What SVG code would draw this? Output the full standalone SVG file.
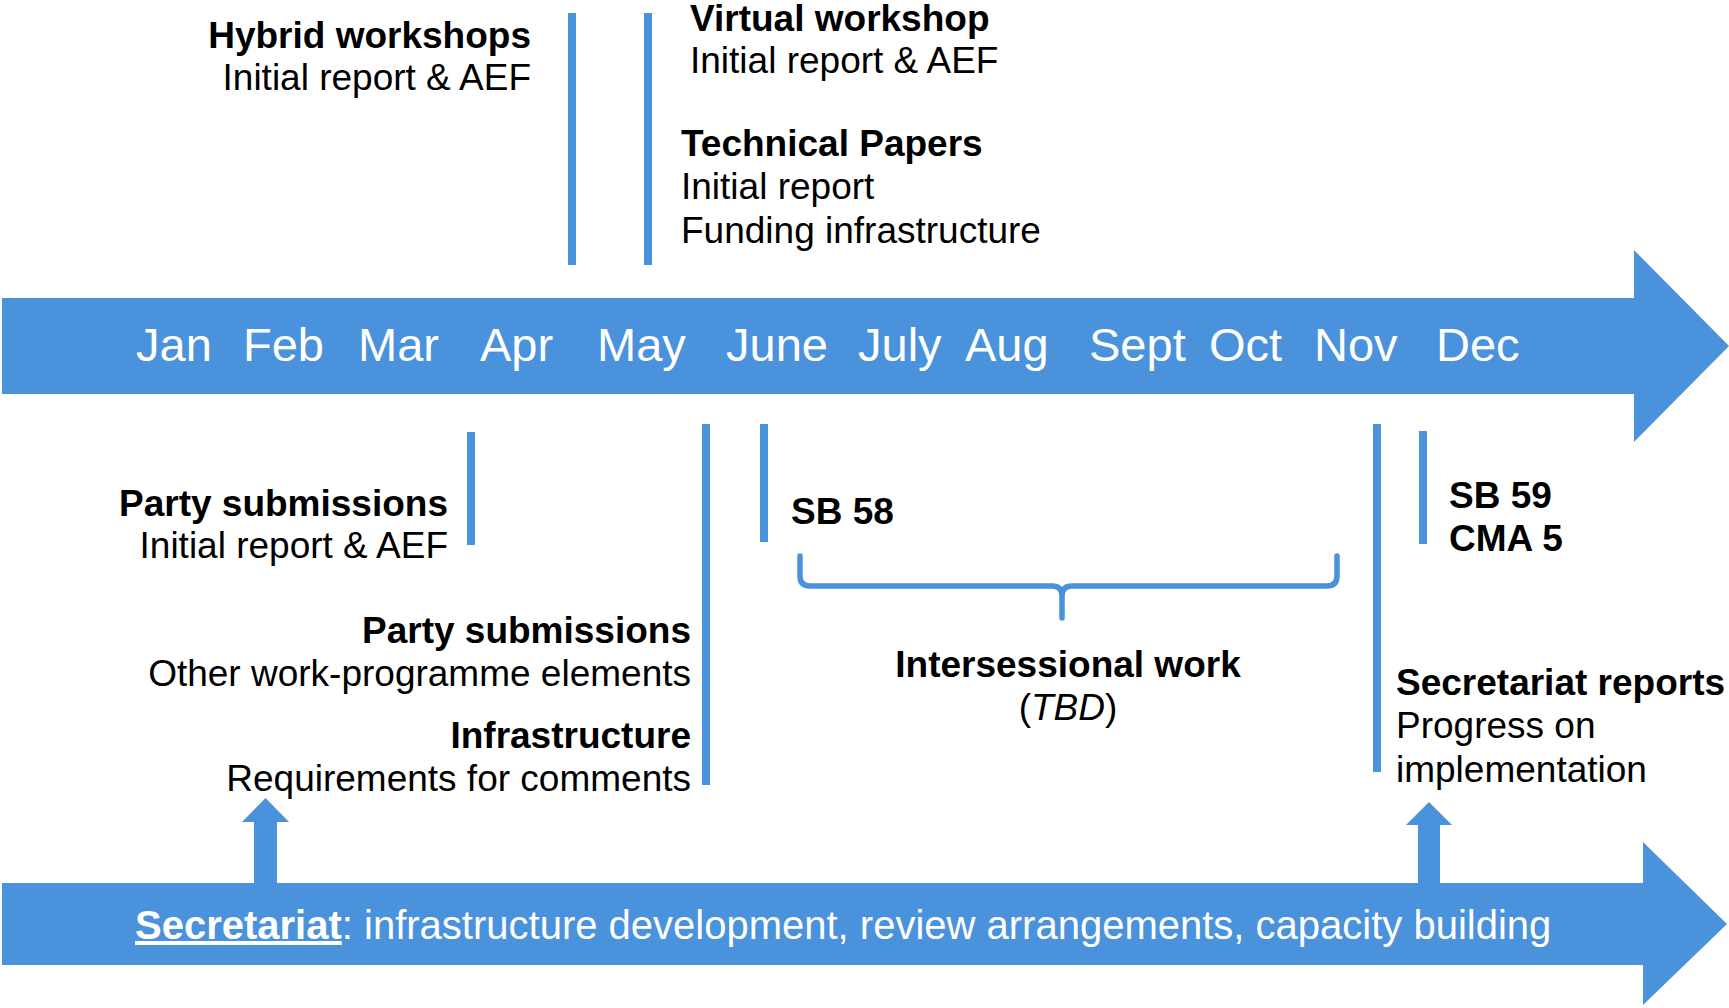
<svg xmlns="http://www.w3.org/2000/svg" width="1729" height="1008" viewBox="0 0 1729 1008">
<style>
  .blue { fill: #4A92DC; }
  .bar { stroke: #4A92DC; stroke-width: 8; fill: none; }
  .brace { stroke: #4A92DC; stroke-width: 5.5; fill: none; stroke-linecap: round; stroke-linejoin: round; }
  text { font-family: "Liberation Sans", Arial, Helvetica, sans-serif; fill: #000; }
  .b { font-weight: bold; font-size: 37px; }
  .r { font-size: 37px; }
  .m { font-size: 47px; fill: #fff; }
  .s { font-size: 40px; fill: #fff; }
  .end { text-anchor: end; }
  .mid { text-anchor: middle; }
</style>
<rect width="1729" height="1008" fill="#fff"/>

<g id="timeline">
  <polygon class="blue" points="2,298 1634,298 1634,250 1729,346 1634,442 1634,394 2,394"/>
  <text class="m" x="136" y="361">Jan</text>
  <text class="m" x="243" y="361">Feb</text>
  <text class="m" x="358" y="361">Mar</text>
  <text class="m" x="480" y="361">Apr</text>
  <text class="m" x="597" y="361">May</text>
  <text class="m" x="726" y="361">June</text>
  <text class="m" x="858" y="361">July</text>
  <text class="m" x="965" y="361">Aug</text>
  <text class="m" x="1089" y="361">Sept</text>
  <text class="m" x="1209" y="361">Oct</text>
  <text class="m" x="1314" y="361">Nov</text>
  <text class="m" x="1436" y="361">Dec</text>
</g>

<g id="secretariat">
  <polygon class="blue" points="2,883 1643,883 1643,842 1727,924 1643,1005 1643,965 2,965"/>
  <text class="s" x="135" y="939"><tspan font-weight="bold" text-decoration="underline">Secretariat</tspan>: infrastructure development, review arrangements, capacity building</text>
</g>

<g id="connectors">
  <line class="bar" x1="572" y1="13" x2="572" y2="265"/>
  <line class="bar" x1="648" y1="13" x2="648" y2="265"/>
  <line class="bar" x1="471" y1="432" x2="471" y2="545"/>
  <line class="bar" x1="706" y1="424" x2="706" y2="785"/>
  <line class="bar" x1="764" y1="424" x2="764" y2="542"/>
  <line class="bar" x1="1377" y1="424" x2="1377" y2="772"/>
  <line class="bar" x1="1423" y1="431" x2="1423" y2="544"/>
  <path class="brace" d="M800,556 V576 Q800,586 810,586 H1052 Q1062,586 1062,596 V618 M1062,596 Q1062,586 1072,586 H1327 Q1337,586 1337,576 V556"/>
  <polygon class="blue" points="254,883 254,822 242,822 265.5,798 289,822 277,822 277,883"/>
  <polygon class="blue" points="1418,883 1418,825 1406,825 1429,802 1452,825 1440,825 1440,883"/>
</g>

<g id="hybrid-workshops">
  <text class="b end" x="531" y="48">Hybrid workshops</text>
  <text class="r end" x="531" y="90">Initial report &amp; AEF</text>
</g>

<g id="virtual-workshop">
  <text class="b" x="690" y="31">Virtual workshop</text>
  <text class="r" x="690" y="73">Initial report &amp; AEF</text>
</g>

<g id="technical-papers">
  <text class="b" x="681" y="156">Technical Papers</text>
  <text class="r" x="681" y="199">Initial report</text>
  <text class="r" x="681" y="243">Funding infrastructure</text>
</g>

<g id="party-submissions-1">
  <text class="b end" x="448" y="516">Party submissions</text>
  <text class="r end" x="448" y="558">Initial report &amp; AEF</text>
</g>

<g id="party-submissions-2">
  <text class="b end" x="691" y="643">Party submissions</text>
  <text class="r end" x="691" y="686">Other work-programme elements</text>
</g>

<g id="infrastructure">
  <text class="b end" x="691" y="748">Infrastructure</text>
  <text class="r end" x="691" y="791">Requirements for comments</text>
</g>

<g id="sb58">
  <text class="b" x="791" y="524">SB 58</text>
</g>

<g id="intersessional">
  <text class="b mid" x="1068" y="677">Intersessional work</text>
  <text class="r mid" x="1068" y="720">(<tspan font-style="italic">TBD</tspan>)</text>
</g>

<g id="sb59">
  <text class="b" x="1449" y="508">SB 59</text>
  <text class="b" x="1449" y="551">CMA 5</text>
</g>

<g id="secretariat-reports">
  <text class="b" x="1396" y="695">Secretariat reports</text>
  <text class="r" x="1396" y="738">Progress on</text>
  <text class="r" x="1396" y="782">implementation</text>
</g>
</svg>
